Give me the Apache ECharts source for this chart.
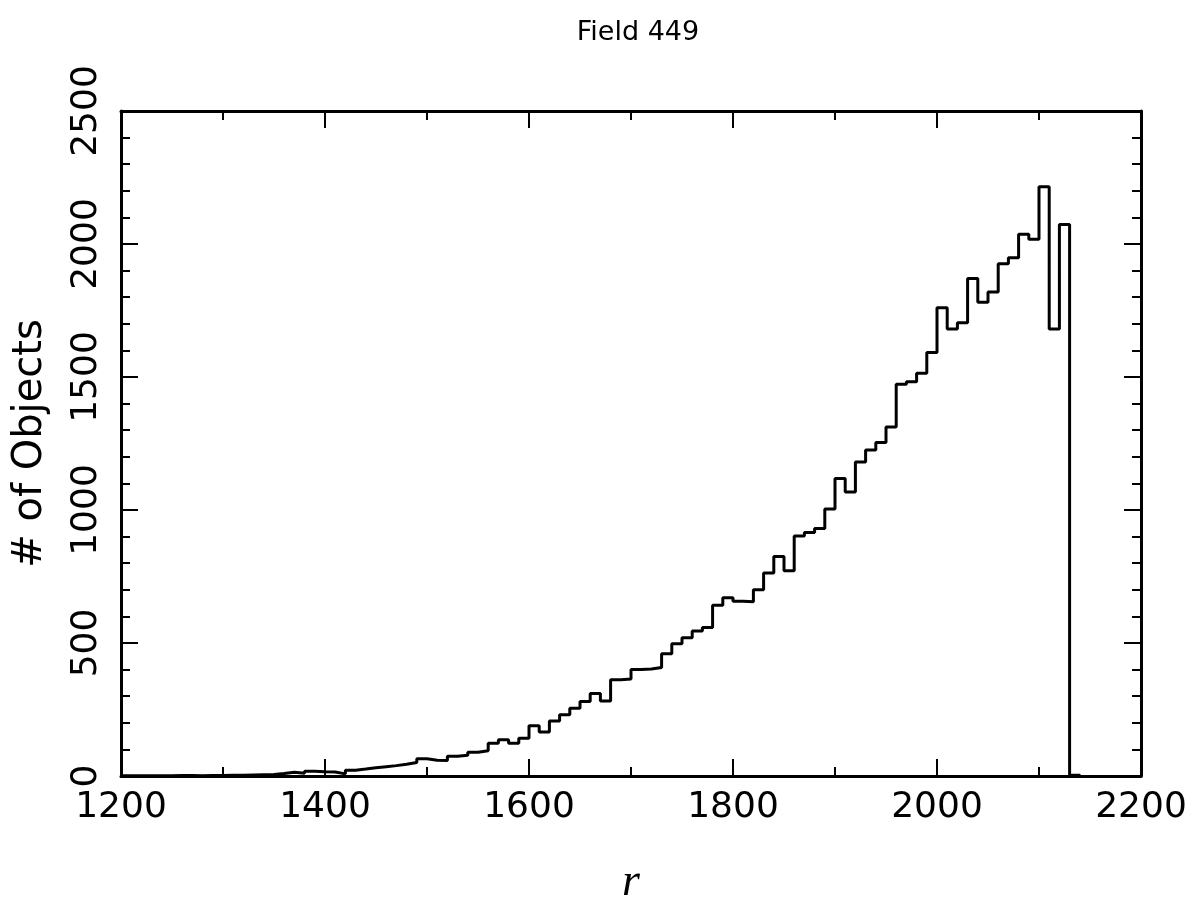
<!DOCTYPE html>
<html>
<head>
<meta charset="utf-8">
<script src="https://cdn.jsdelivr.net/npm/echarts@6/dist/echarts.min.js"></script>
<style>
html,body{margin:0;padding:0;background:#fff;}
#chart{width:1196px;height:911px;}
</style>
</head>
<body>
<div id="chart"></div>
<script>
// Histogram: left bin edges (width 10) and counts
const binStart = 1200;
const binWidth = 10;
const counts = [
  1, 1, 1, 1, 1, 2, 2, 1, 2, 2,            // 1200-1290
  3, 3, 4, 5, 6, 9, 14, 10, 18, 16,        // 1300-1390
  15, 8, 22, 26, 31, 35, 39, 44, 51, 65,   // 1400-1490
  59, 58, 74, 78, 89, 95, 123, 136, 123, 142, // 1500-1590
  189, 165, 207, 230, 255, 280, 310, 282, 362, 365, // 1600-1690
  400, 402, 408, 460, 497, 520, 545, 558, 642, 670, // 1700-1790
  657, 655, 700, 763, 825, 772, 902, 915, 930, 1004, // 1800-1890
  1118, 1068, 1180, 1226, 1254, 1312, 1473, 1482, 1514, 1592, // 1900-1990
  1760, 1680, 1704, 1870, 1781, 1820, 1926, 1948, 2037, 2018, // 2000-2090
  2215, 1680, 2073, 3                       // 2100-2130
];
const xTicks = [1200, 1400, 1600, 1800, 2000, 2200];
const yTicks = [0, 500, 1000, 1500, 2000, 2500];

const edges = counts.map((c, i) => binStart + i * binWidth);
const lineData = counts.map((c, i) => [edges[i], c]);
lineData.push([binStart + counts.length * binWidth, 0]);

const chart = echarts.init(document.getElementById('chart'));
const FONT = 'DejaVu Sans';
const axisLineStyle = {color: '#000', width: 3};
const plain = v => String(v);

function xAxisDef(pos, showLabel) {
  return {
    type: 'value', position: pos, min: xTicks[0], max: xTicks[xTicks.length - 1], interval: 200,
    axisLine: {show: true, lineStyle: axisLineStyle, onZero: false},
    axisTick: {show: true, inside: true, length: 17, lineStyle: {color: '#000', width: 2}},
    minorTick: {show: true, splitNumber: 2, length: 9, lineStyle: {color: '#000', width: 2}},
    splitLine: {show: false}, minorSplitLine: {show: false},
    axisLabel: {show: showLabel, color: '#000', fontFamily: FONT, fontSize: 36, margin: 14, formatter: plain}
  };
}
function yAxisDef(pos, showLabel) {
  return {
    type: 'value', position: pos, min: yTicks[0], max: yTicks[yTicks.length - 1], interval: 500,
    axisLine: {show: true, lineStyle: axisLineStyle, onZero: false},
    axisTick: {show: true, inside: true, length: 17, lineStyle: {color: '#000', width: 2}},
    minorTick: {show: true, splitNumber: 5, length: 9, lineStyle: {color: '#000', width: 2}},
    splitLine: {show: false}, minorSplitLine: {show: false},
    axisLabel: {show: showLabel, color: '#000', fontFamily: FONT, fontSize: 36, rotate: 90, margin: 16, formatter: plain}
  };
}

const xa0 = xAxisDef('bottom', true);
xa0.name = 'r';
xa0.nameLocation = 'middle';
xa0.nameGap = 84;
xa0.nameTextStyle = {fontFamily: 'Liberation Serif', fontStyle: 'italic', fontSize: 46, color: '#000'};
const ya0 = yAxisDef('left', true);
ya0.name = '# of Objects';
ya0.nameLocation = 'middle';
ya0.nameRotate = 90;
ya0.nameGap = 70;
ya0.nameTextStyle = {fontFamily: FONT, fontSize: 40, color: '#000'};

chart.setOption({
  animation: false,
  backgroundColor: '#fff',
  title: {
    text: 'Field 449', left: 633, top: 14, textAlign: 'center',
    textStyle: {fontFamily: FONT, fontSize: 27, fontWeight: 'normal', color: '#000'}
  },
  grid: {left: 121, right: 55, top: 111, bottom: 125, containLabel: false},
  xAxis: [xa0, xAxisDef('top', false)],
  yAxis: [ya0, yAxisDef('right', false)],
  series: [{
    type: 'line', xAxisIndex: 0, yAxisIndex: 0,
    data: lineData, step: 'end', symbol: 'none',
    lineStyle: {color: '#000', width: 3}
  }]
});
</script>
</body>
</html>
